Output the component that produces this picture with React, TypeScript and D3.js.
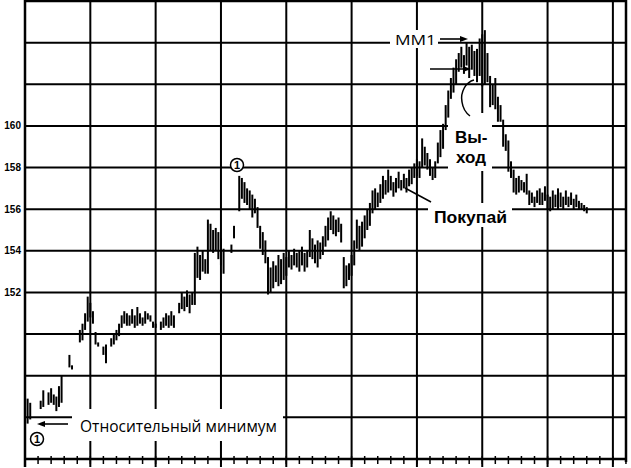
import React from "react";
import * as d3 from "d3";

const days = [1,2,6,7,9,10,11,12,13,14,17,18,21,22,23,24,25,26,27,28,30,31,33,34,35,36,37,38,39,40,41,42,43,44,45,46,47,48,49,50,52,53,54,55,56,57,59,60,61,62,63,64,65,66,67,68,69,70,71,72,73,74,75,76,79,80,82,83,84,85,86,87,88,89,90,91,92,93,94,95,96,97,98,99,100,101,102,103,104,105,106,107,108,109,110,111,112,113,114,115,116,117,118,119,120,121,122,123,124,125,126,127,128,129,130,131,132,133,134,135,136,137,138,139,140,141,142,143,144,145,146,147,148,149,150,151,152,153,154,155,156,157,158,159,160,161,162,163,164,165,166,167,168,169,170,171,172,173,174,175,176,177,178,179,180,181,182,183,184,185,186,187,188,189,190,191,192,193,194,195,196,197,198,199,200,201,202,203,204,205,206,207,208,209,210,211,212,213,214,215];

const highs = [146.9,146.7,146.8,147.3,147.2,147.4,147.1,147.0,147.5,148.0,149.0,148.5,150.2,150.5,151.0,151.8,151.5,151.1,150.1,149.6,149.4,149.5,149.8,150.0,150.2,150.5,150.9,151.1,151.0,150.9,151.2,150.9,151.3,151.0,150.8,151.1,151.0,150.9,150.6,150.5,150.6,150.8,151.0,150.9,151.1,150.9,151.5,152.0,151.8,152.1,151.9,152.0,153.9,154.2,153.8,154.0,153.6,155.5,155.3,155.0,155.1,154.9,154.6,154.1,154.3,155.2,157.6,157.5,157.3,157.0,156.9,156.7,156.5,156.1,155.2,154.9,154.5,153.7,153.2,153.5,153.3,153.8,153.6,153.9,153.7,154.0,153.8,154.1,153.9,154.0,154.2,153.9,154.0,155.0,154.6,154.3,154.5,154.4,154.7,155.2,155.6,155.9,155.7,155.5,155.6,155.3,153.7,153.3,153.4,153.8,154.5,155.5,155.2,155.4,155.7,156.0,156.3,156.9,157.0,156.8,157.2,157.6,157.4,157.9,157.6,157.3,157.5,157.8,157.4,157.7,157.5,157.9,158.0,158.2,158.4,158.3,159.4,159.0,158.7,158.4,158.0,158.3,159.2,159.8,160.1,161.0,161.7,162.3,162.8,163.2,163.5,163.8,163.4,164.0,163.8,163.9,163.6,163.7,164.2,164.4,164.6,163.5,162.4,162.0,162.3,161.4,161.0,160.3,159.6,159.3,158.3,157.9,157.5,157.6,157.4,157.3,157.7,156.9,156.8,156.6,156.9,157.0,156.8,157.1,156.7,156.6,156.9,156.7,157.0,156.8,156.6,156.9,156.6,156.8,156.5,156.7,156.4,156.3,156.2,156.1];

const lows = [145.7,145.9,146.4,146.5,146.6,146.7,146.6,146.3,146.5,146.7,148.4,148.3,149.6,149.7,150.2,150.6,150.8,150.5,149.5,149.4,149.0,148.6,149.4,149.5,149.7,149.9,150.3,150.5,150.4,150.4,150.5,150.3,150.4,150.5,150.4,150.5,150.7,150.6,150.3,150.3,150.2,150.3,150.4,150.3,150.4,150.3,151.0,151.2,151.1,151.3,151.0,151.4,151.4,152.7,152.6,153.0,152.9,152.9,154.0,153.9,154.0,153.6,153.3,152.9,153.9,154.6,155.9,156.5,156.3,156.2,156.0,155.6,155.8,155.1,154.1,153.8,153.4,151.9,152.0,152.2,152.5,152.3,152.4,152.6,152.8,153.2,153.1,153.3,153.2,153.0,153.3,153.0,153.2,153.7,153.6,153.4,153.2,153.6,153.8,154.2,154.5,155.0,154.8,154.7,154.9,154.4,152.2,152.3,152.6,152.8,153.3,154.1,154.0,154.2,154.6,155.0,155.2,155.8,156.0,156.1,156.3,156.5,156.7,156.8,156.9,156.6,156.8,157.0,156.9,157.0,156.8,157.1,157.2,157.5,157.6,157.5,158.0,158.1,157.9,157.6,157.4,157.5,158.2,158.5,158.9,159.8,160.4,161.3,161.6,162.0,162.6,162.8,162.5,162.9,162.3,162.7,162.4,162.1,162.4,161.9,162.0,162.1,160.9,161.0,160.8,160.2,160.2,159.0,158.8,157.8,157.5,156.8,156.7,156.8,156.9,156.8,156.7,156.2,156.3,156.1,156.3,156.2,156.2,156.4,156.0,155.9,156.0,156.1,156.0,156.1,156.0,156.2,156.1,156.2,156.0,156.1,156.0,156.0,155.9,155.8];

const yLabels = [152, 154, 156, 158, 160];
const yGrid = [146, 148, 150, 152, 154, 156, 158, 160, 162, 164, 166];
const xGrid = [25, 50, 75, 100, 125, 150, 175, 200, 225];
const xMinor = d3.range(0, 231, 5);

const W = 631, H = 468;

export default function App() {
  const x = d3.scaleLinear().domain([0, 230.4]).range([25, 627]);
  const y = d3.scaleLinear().domain([144, 166]).range([459, 1]);
  const bars = days.map((d, i) => ({ d, h: highs[i], l: lows[i] }));
  const sans = "'Liberation Sans', Arial, sans-serif";
  const human = "'Open Sans', 'DejaVu Sans', sans-serif";

  const arrow = (x1: number, y1: number, x2: number, y2: number, key: string) => {
    const dir = Math.sign(x2 - x1);
    return (
      <g key={key}>
        <line x1={x1} y1={y1} x2={x2 - dir * 4} y2={y2} stroke="#000" strokeWidth={1.6} />
        <path d={`M${x2},${y2} L${x2 - dir * 8},${y2 - 3} L${x2 - dir * 8},${y2 + 3} Z`} fill="#000" />
      </g>
    );
  };

  return (
    <svg width={W} height={H} style={{ position: "absolute", left: 0, top: 0, background: "#fff" }}>
      <rect x={0} y={0} width={W} height={H} fill="#fff" />
      {yGrid.map((v) => (
        <line key={"h" + v} x1={x(0)} x2={x(230.4)} y1={y(v)} y2={y(v)} stroke="#000" strokeWidth={v === 166 ? 2.5 : 2} />
      ))}
      {xGrid.map((v) => (
        <line key={"v" + v} x1={x(v)} x2={x(v)} y1={0} y2={467} stroke="#000" strokeWidth={2} />
      ))}
      <line x1={x(0)} x2={x(0)} y1={0} y2={467} stroke="#000" strokeWidth={2.5} />
      <line x1={x(230.4) - 1} x2={x(230.4) - 1} y1={0} y2={462} stroke="#000" strokeWidth={2.5} />
      <line x1={x(0)} x2={x(230.4)} y1={y(144)} y2={y(144)} stroke="#000" strokeWidth={2.5} />
      {xMinor.map((v) => (
        <line key={"t" + v} x1={x(v)} x2={x(v)} y1={y(144) - 3} y2={y(144) + 5} stroke="#000" strokeWidth={1.5} />
      ))}
      {yLabels.map((v) => (
        <text key={"yl" + v} x={21} y={y(v) + 3.5} textAnchor="end" fontFamily={sans} fontWeight="bold" fontSize={10} fill="#000">
          {v}
        </text>
      ))}

      <rect x={72} y={409} width={211} height={32} fill="#fff" />
      <rect x={390} y={30} width={48} height={18} fill="#fff" />
      <rect x={448} y={113} width={44} height={58} fill="#fff" />
      <rect x={428} y={203} width={84} height={24} fill="#fff" />

      {bars.map((b) => (
        <line key={"b" + b.d} x1={x(b.d)} x2={x(b.d)} y1={y(b.h)} y2={y(b.l)} stroke="#000" strokeWidth={2} />
      ))}

      <text x={80} y={432} fontFamily={human} fontSize={15.5} fill="#000" textLength={197} lengthAdjust="spacingAndGlyphs">
        Относительный минимум
      </text>
      {arrow(68, 424, 37, 424, "a1")}
      <circle cx={37} cy={439} r={6.5} fill="#fff" stroke="#000" strokeWidth={1.5} />
      <text x={37} y={443} textAnchor="middle" fontFamily={sans} fontWeight="bold" fontSize={11} fill="#000">1</text>

      <circle cx={237} cy={165} r={6.5} fill="#fff" stroke="#000" strokeWidth={1.5} />
      <text x={237} y={169} textAnchor="middle" fontFamily={sans} fontWeight="bold" fontSize={11} fill="#000">1</text>

      <text x={395} y={45} fontFamily={human} fontSize={15} fill="#000" textLength={41} lengthAdjust="spacingAndGlyphs">
        ММ1
      </text>
      {arrow(440, 39, 468, 39, "a2")}
      {arrow(430, 69, 471, 69, "a3")}
      <path d="M474,80 C466,82 460,92 462,102 C463,109 466,113 470,116" fill="none" stroke="#000" strokeWidth={1.5} />

      <text x={455} y={143} fontFamily={sans} fontWeight="bold" fontSize={17} fill="#000">Вы-</text>
      <text x={456} y={163} fontFamily={sans} fontWeight="bold" fontSize={17} fill="#000">ход</text>

      <line x1={405} y1={188} x2={431} y2={202} stroke="#000" strokeWidth={1.5} />
      <text x={434} y={223} fontFamily={sans} fontWeight="bold" fontSize={16} fill="#000" textLength={73} lengthAdjust="spacingAndGlyphs">
        Покупай
      </text>
    </svg>
  );
}
